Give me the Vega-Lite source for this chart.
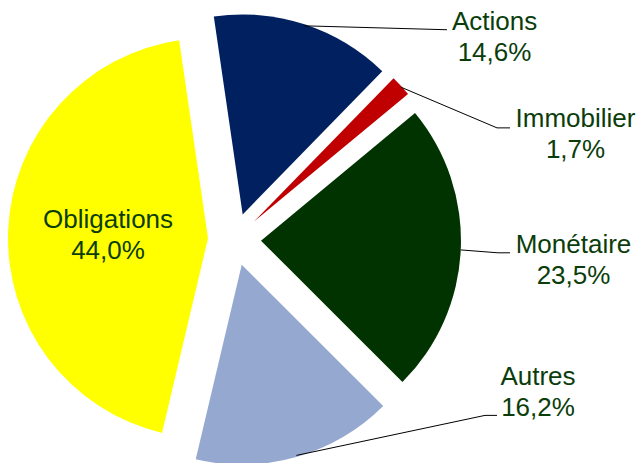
{
  "$schema": "https://vega.github.io/schema/vega-lite/v6.json",
  "width": 637,
  "height": 463,
  "autosize": {"type": "fit", "contains": "padding"},
  "padding": 0,
  "background": "white",
  "config": {"view": {"stroke": null}},
  "datasets": {
    "parts": [
      {"cat": "Actions", "share": 14.6},
      {"cat": "Immobilier", "share": 1.7},
      {"cat": "Monétaire", "share": 23.5},
      {"cat": "Autres", "share": 16.2},
      {"cat": "Obligations", "share": 44.0}
    ],
    "annotations": [
      {"cat": "Actions", "lx": 1.3, "ly": 1.0575, "bx": 1.0625, "by": 1.0575, "tx": 1.0625, "ty": 1.0575},
      {"cat": "Immobilier", "lx": 1.705, "ly": 0.5675, "bx": 1.3125, "by": 0.5625, "tx": 1.3775, "ty": 0.5625},
      {"cat": "Monétaire", "lx": 1.695, "ly": -0.0675, "bx": 1.3175, "by": -0.0675, "tx": 1.3775, "ty": -0.0675},
      {"cat": "Autres", "lx": 1.5175, "ly": -0.7325, "bx": 1.2525, "by": -0.8875, "tx": 1.3125, "ty": -0.8875},
      {"cat": "Obligations", "lx": -0.6325, "ly": 0.0575, "bx": null, "by": null, "tx": null, "ty": null}
    ]
  },
  "data": {"name": "parts"},
  "transform": [
    {"window": [{"op": "sum", "field": "share", "as": "cum"}], "frame": [null, 0]},
    {"calculate": "datum.cum - datum.share", "as": "t0"},
    {"calculate": "(datum.cum - datum.share / 2) / 100 * 2 * PI - 0.14486", "as": "mid"},
    {"calculate": "0.1325 * sin(datum.mid)", "as": "ex"},
    {"calculate": "0.1325 * cos(datum.mid)", "as": "ey"},
    {"calculate": "datum.ex + sin(datum.mid)", "as": "sx"},
    {"calculate": "datum.ey + cos(datum.mid)", "as": "sy"},
    {"calculate": "[datum.cat, replace(format(datum.share, '.1f'), '.', ',') + '%']", "as": "lab"},
    {"lookup": "cat", "from": {"data": {"name": "annotations"}, "key": "cat", "fields": ["lx", "ly", "bx", "by", "tx", "ty"]}}
  ],
  "layer": [
    {
      "mark": {"type": "arc", "outerRadius": 200, "innerRadius": 0, "stroke": null},
      "encoding": {
        "theta": {"field": "t0", "type": "quantitative", "scale": {"domain": [0, 100], "range": [-0.14486, 6.13833]}},
        "theta2": {"field": "cum"},
        "x": {"field": "ex", "type": "quantitative", "stack": false, "axis": null, "scale": {"domain": [-1.1725, 2.0125], "nice": false, "zero": false}},
        "y": {"field": "ey", "type": "quantitative", "stack": false, "axis": null, "scale": {"domain": [-1.1075, 1.2075], "nice": false, "zero": false}},
        "color": {
          "field": "cat",
          "type": "nominal",
          "legend": null,
          "scale": {
            "domain": ["Actions", "Immobilier", "Monétaire", "Autres", "Obligations"],
            "range": ["#002060", "#C00000", "#003300", "#95A9D0", "#FFFF00"]
          }
        }
      }
    },
    {
      "transform": [{"filter": "isValid(datum.bx)"}],
      "mark": {"type": "rule", "color": "#000000", "strokeWidth": 1},
      "encoding": {
        "x": {"field": "sx", "type": "quantitative", "axis": null, "scale": {"domain": [-1.1725, 2.0125], "nice": false, "zero": false}},
        "y": {"field": "sy", "type": "quantitative", "axis": null, "scale": {"domain": [-1.1075, 1.2075], "nice": false, "zero": false}},
        "x2": {"field": "bx"},
        "y2": {"field": "by"}
      }
    },
    {
      "transform": [{"filter": "isValid(datum.bx)"}],
      "mark": {"type": "rule", "color": "#000000", "strokeWidth": 1},
      "encoding": {
        "x": {"field": "bx", "type": "quantitative", "axis": null, "scale": {"domain": [-1.1725, 2.0125], "nice": false, "zero": false}},
        "y": {"field": "by", "type": "quantitative", "axis": null, "scale": {"domain": [-1.1075, 1.2075], "nice": false, "zero": false}},
        "x2": {"field": "tx"},
        "y2": {"field": "ty"}
      }
    },
    {
      "mark": {"type": "text", "font": "Liberation Sans", "fontSize": 26, "fill": "#0B3D0B", "align": "center", "baseline": "alphabetic", "lineHeight": 31},
      "encoding": {
        "x": {"field": "lx", "type": "quantitative", "axis": null, "scale": {"domain": [-1.1725, 2.0125], "nice": false, "zero": false}},
        "y": {"field": "ly", "type": "quantitative", "axis": null, "scale": {"domain": [-1.1075, 1.2075], "nice": false, "zero": false}},
        "text": {"field": "lab"}
      }
    }
  ]
}
